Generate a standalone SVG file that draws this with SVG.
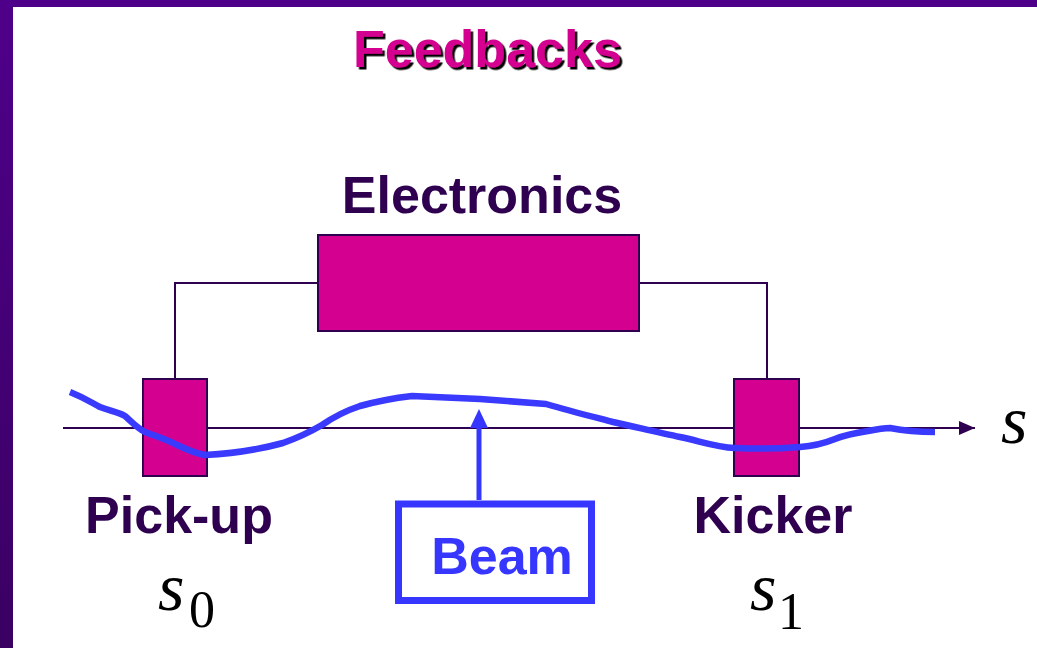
<svg xmlns="http://www.w3.org/2000/svg" width="1037" height="648" viewBox="0 0 1037 648">
  <defs>
    <linearGradient id="sideGrad" x1="0" y1="0" x2="0" y2="1">
      <stop offset="0" stop-color="#4f008a"/>
      <stop offset="1" stop-color="#3a0062"/>
    </linearGradient>
    <filter id="shadow" x="-5%" y="-20%" width="115%" height="150%">
      <feDropShadow dx="2.5" dy="2.5" stdDeviation="0" flood-color="#000000" flood-opacity="1"/>
    </filter>
    <marker id="axisHead" viewBox="0 0 16 14" refX="16" refY="7" markerWidth="16" markerHeight="14" markerUnits="userSpaceOnUse" orient="auto">
      <path d="M0,0 L16,7 L0,14 Z" fill="#2e004f"/>
    </marker>
  </defs>
  <style>
    .box { fill: #d4008f; stroke: #2e004f; stroke-width: 2; }
    .wire { fill: none; stroke: #2e004f; stroke-width: 2; }
    .lbl { font-family: "Liberation Sans", Arial, sans-serif; font-weight: bold; font-size: 52px; fill: #2e004f; }
    .math { font-family: "Liberation Serif", "Times New Roman", serif; fill: #000000; }
  </style>

  <rect x="0" y="0" width="1037" height="648" fill="#ffffff"/>
  <rect x="0" y="0" width="13" height="648" fill="url(#sideGrad)"/>
  <rect x="0" y="0" width="1037" height="7" fill="#4f008a"/>

  <g id="title">
    <text x="353" y="67" font-family="Liberation Sans, Arial, sans-serif" font-weight="bold" font-size="52" fill="#d4008f" filter="url(#shadow)">Feedbacks</text>
  </g>

  <g id="connectors">
    <polyline class="wire" points="175,379 175,283 318,283"/>
    <polyline class="wire" points="639,283 767,283 767,379"/>
    <line class="wire" x1="63" y1="428" x2="975" y2="428" marker-end="url(#axisHead)"/>
  </g>

  <g id="electronics">
    <rect class="box" x="318" y="235" width="321" height="96"/>
    <text class="lbl" x="482" y="213" text-anchor="middle">Electronics</text>
  </g>

  <g id="pickup">
    <rect class="box" x="143" y="379" width="64" height="97"/>
    <text class="lbl" x="179" y="533" text-anchor="middle">Pick-up</text>
    <text class="math" x="158" y="610" font-size="68" font-style="italic">s</text>
    <text class="math" x="189" y="627" font-size="52">0</text>
  </g>

  <g id="kicker">
    <rect class="box" x="734" y="379" width="65" height="97"/>
    <text class="lbl" x="773" y="533" text-anchor="middle">Kicker</text>
    <text class="math" x="750" y="610" font-size="68" font-style="italic">s</text>
    <text class="math" x="778" y="629" font-size="52">1</text>
  </g>

  <g id="axis-label">
    <text class="math" x="1001" y="443" font-size="68" font-style="italic">s</text>
  </g>

  <g id="beam-trajectory">
    <path d="M70,392 C85,398 92,403 100,407 C110,411 118,412 125,416 C132,422 136,427 145,432 C158,437 165,439 175,444 C188,450 196,454 205,455 C225,454 250,452 283,443 C300,437 310,432 322,425 C335,416 345,411 360,406 C378,401 395,398 412,396 L480,399 L546,404 C570,411 590,416 613,422 C640,428 660,433 680,437 C700,441 715,447 735,448 C755,449 775,449 800,447 C815,446 825,443 835,439 C845,435 855,433 868,431 C878,429 885,428 890,428 C900,430 910,432 935,432" fill="none" stroke="#3a3aff" stroke-width="6.5" stroke-linejoin="round"/>
  </g>

  <g id="beam">
    <line x1="479" y1="500" x2="479" y2="424" stroke="#3636ff" stroke-width="5"/>
    <path d="M479,409 L488,428 L470,428 Z" fill="#3636ff"/>
    <rect x="398.5" y="504" width="193" height="96.5" fill="#ffffff" stroke="#3636ff" stroke-width="7"/>
    <text x="502" y="574" text-anchor="middle" font-family="Liberation Sans, Arial, sans-serif" font-weight="bold" font-size="52" fill="#3636ff">Beam</text>
  </g>
</svg>
